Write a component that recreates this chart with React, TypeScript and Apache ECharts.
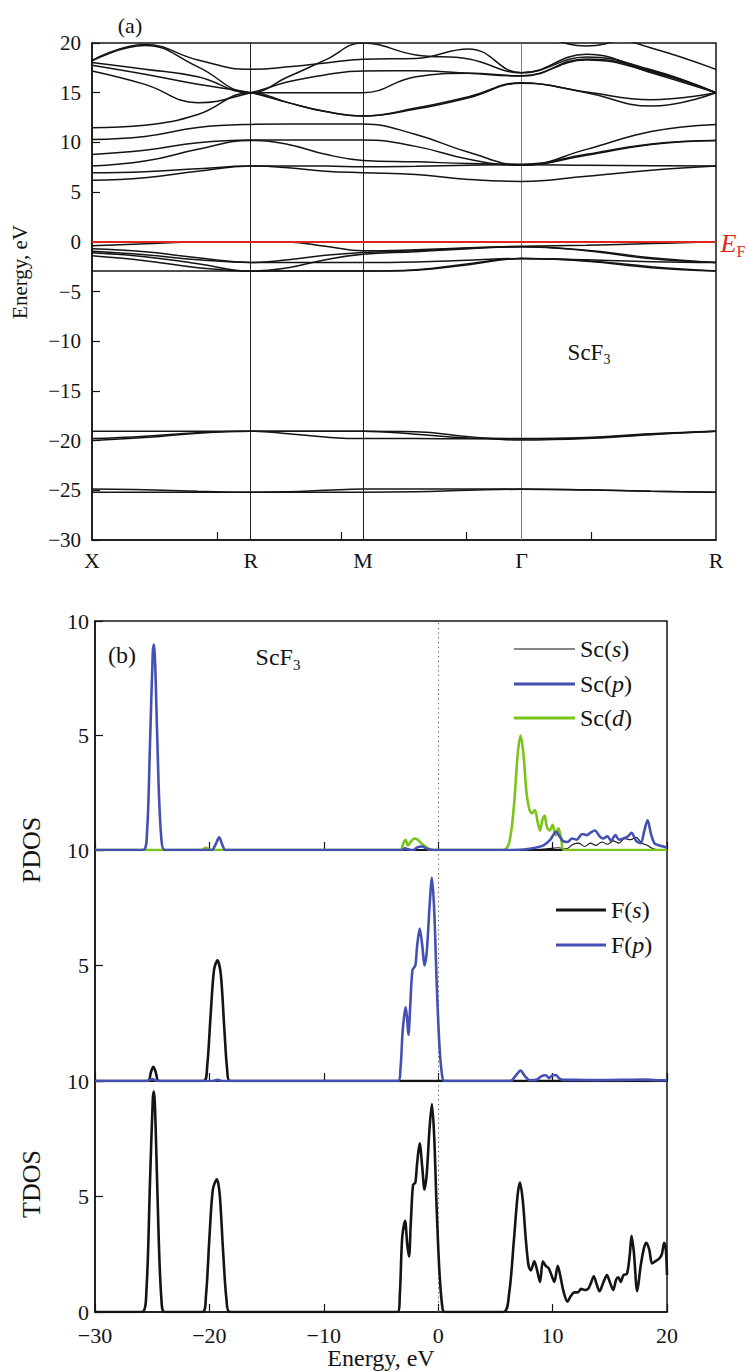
import { useEffect, useRef } from 'react';
import * as echarts from 'echarts';

const FONT = 'Liberation Serif, Times New Roman, serif';

// ---------- Panel (a): band structure ----------
const kPts = [0, 0.424, 0.848, 1.272, 1.572, 1.871, 2.171, 2.595, 3.019, 3.443, 3.962, 4.481, 5];
const kLabelPos = [0, 1.272, 2.171, 3.443, 5];
const kLabelNames = ['X', 'R', 'M', 'Γ', 'R'];
const kLinePos = [1.272, 2.171, 3.443];
const kTickPos = [1, 2, 3, 4];

const bandU1 = [18.26, 19.85, 18.3, 17.35, 17.6, 18.0, 18.36, 18.45, 19.4, 17.0, 18.87, 17.0, 15.0];
const bandU2 = [18.2, 19.75, 17.6, 15.0, 16.6, 18.3, 20.0, 18.8, 18.4, 17.0, 18.6, 17.3, 15.0];
const bandU3 = [18.03, 17.35, 16.6, 15.0, 15.0, 15.0, 15.0, 16.6, 16.95, 16.7, 18.4, 17.2, 15.0];
const bandU4 = [17.76, 16.85, 15.84, 15.0, 14.0, 13.1, 12.66, 13.45, 14.6, 16.0, 15.07, 14.3, 15.0];
const bandU5 = [17.19, 15.84, 14.0, 15.0, 16.1, 16.8, 17.19, 17.2, 16.95, 16.68, 18.3, 17.1, 15.0];
const bandU7 = [21, 21, 21, 21, 21, 21, 21, 21, 21, 21, 21, 19.5, 17.35];
const bandU8 = [21, 21, 21, 21, 21, 21, 21, 21, 21, 21, 19.7, 21, 21];
const bandC6 = [11.48, 11.73, 12.8, 15.0, 14.0, 13.1, 12.66, 13.35, 14.5, 15.95, 15.0, 13.65, 15.0];
const bandC5 = [10.3, 10.6, 11.5, 11.81, 11.85, 11.85, 11.85, 10.8, 9.0, 7.75, 8.7, 9.8, 10.2];
const bandC4 = [8.79, 9.2, 9.97, 10.25, 10.25, 10.24, 10.24, 9.6, 8.3, 7.7, 9.3, 11.1, 11.81];
const bandC3 = [7.62, 8.12, 9.3, 10.2, 9.8, 8.8, 8.19, 8.05, 7.87, 7.8, 8.8, 9.85, 10.2];
const bandC2 = [6.95, 7.05, 7.35, 7.62, 7.62, 7.62, 7.55, 7.6, 7.7, 7.75, 7.7, 7.65, 7.62];
const bandC1 = [6.18, 6.45, 7.1, 7.62, 7.45, 7.1, 6.95, 6.78, 6.27, 6.07, 6.6, 7.2, 7.62];
const bandV1 = [-0.4, -0.2, -0.03, 0, -0.03, -0.45, -0.91, -0.8, -0.6, -0.45, -0.34, -0.17, 0];
const bandV2 = [-0.7, -1.0, -1.6, -2.08, -1.8, -1.35, -1.07, -0.9, -0.65, -0.5, -0.9, -1.7, -2.08];
const bandV3 = [-0.95, -1.3, -1.8, -2.08, -2.08, -2.08, -2.08, -2.02, -1.85, -1.68, -1.8, -2.0, -2.08];
const bandV4 = [-1.1, -1.5, -2.2, -2.95, -2.6, -1.8, -1.25, -1.0, -0.7, -0.5, -0.85, -1.6, -2.08];
const bandV5 = [-1.41, -1.9, -2.6, -2.95, -2.95, -2.95, -2.95, -2.85, -2.3, -1.68, -1.95, -2.6, -2.95];
const bandV6 = [-2.95, -2.95, -2.95, -2.95, -2.95, -2.95, -2.95, -2.8, -2.2, -1.68, -1.9, -2.5, -2.93];
const bandE1 = [-19.05, -19.05, -19.05, -19.05, -19.05, -19.05, -19.05, -19.35, -19.75, -19.8, -19.7, -19.3, -19.05];
const bandE2 = [-19.8, -19.55, -19.2, -19.05, -19.3, -19.65, -19.8, -19.8, -19.82, -19.85, -19.75, -19.35, -19.05];
const bandE3 = [-20.0, -19.7, -19.25, -19.05, -19.05, -19.05, -19.05, -19.1, -19.6, -19.95, -19.8, -19.4, -19.05];
const bandD1 = [-24.87, -24.95, -25.1, -25.2, -25.15, -25.0, -24.87, -24.87, -24.87, -24.87, -24.95, -25.1, -25.2];
const bandD2 = [-25.2, -25.2, -25.2, -25.2, -25.2, -25.2, -25.2, -25.15, -25.0, -24.9, -24.97, -25.1, -25.2];

const bandList = [
  bandU1, bandU2, bandU3, bandU4, bandU5, bandU7, bandU8, bandC6, bandC5, bandC4, bandC3, bandC2, bandC1,
  bandV1, bandV2, bandV3, bandV4, bandV5, bandV6, bandE1, bandE2, bandE3, bandD1, bandD2,
];

// ---------- Panel (b): densities of states ----------
const dosScS = [
  [-30, 0], [-3.3, 0], [-2.9, 0.1], [-2.5, 0], [5.8, 0], [8.5, 0.02], [9.5, 0.05], [10.5, 0.1], [11.2, 0.05],
  [11.8, 0.25], [12.3, 0.3], [12.8, 0.15], [13.3, 0.3], [13.8, 0.2], [14.3, 0.35], [14.8, 0.25], [15.3, 0.4],
  [15.8, 0.3], [16.3, 0.5], [16.8, 0.45], [17.3, 0.55], [17.8, 0.3], [18.3, 0.2], [18.8, 0.05], [19.3, 0], [20, 0],
];
const dosScP = [
  [-30, 0], [-25.8, 0], [-25.45, 0.8], [-25.2, 4.5], [-24.95, 8.6], [-24.85, 8.97], [-24.7, 7.5], [-24.45, 3.0],
  [-24.2, 0.5], [-23.9, 0], [-19.8, 0], [-19.45, 0.25], [-19.15, 0.55], [-18.85, 0.2], [-18.6, 0],
  [-3.2, 0], [-2.9, 0.05], [-2.2, 0], [-1.8, 0.12], [-1.4, 0.15], [-1.0, 0.05], [-0.4, 0],
  [6.5, 0], [7.5, 0.02], [8.5, 0.1], [9.2, 0.2], [9.8, 0.45], [10.3, 0.8], [10.6, 0.6], [10.9, 0.4], [11.3, 0.35],
  [11.7, 0.5], [12.1, 0.45], [12.6, 0.7], [13.0, 0.65], [13.3, 0.75], [13.7, 0.85], [14.1, 0.6], [14.4, 0.5],
  [14.8, 0.6], [15.1, 0.4], [15.5, 0.65], [15.8, 0.45], [16.2, 0.5], [16.6, 0.6], [16.9, 0.75], [17.3, 0.4],
  [17.7, 0.3], [18.0, 0.8], [18.3, 1.3], [18.6, 0.7], [18.9, 0.3], [19.3, 0.2], [19.7, 0.15], [20, 0.1],
];
const dosScD = [
  [-30, 0], [-20.7, 0], [-20.3, 0.1], [-19.9, 0],
  [-3.3, 0], [-3.05, 0.3], [-2.85, 0.45], [-2.65, 0.2], [-2.4, 0.35], [-2.1, 0.5], [-1.8, 0.45], [-1.5, 0.3],
  [-1.1, 0.15], [-0.6, 0],
  [5.7, 0], [6.2, 0.3], [6.6, 1.8], [6.95, 4.2], [7.2, 5.0], [7.45, 4.2], [7.7, 2.6], [7.95, 1.8], [8.2, 1.6],
  [8.45, 1.75], [8.7, 1.2], [8.9, 0.85], [9.1, 1.3], [9.3, 1.5], [9.5, 1.0], [9.75, 0.85], [10.0, 1.1],
  [10.25, 0.65], [10.5, 0.95], [10.75, 0.5], [11.0, 0], [20, 0],
];
const dosFS = [
  [-30, 0], [-25.4, 0], [-25.1, 0.4], [-24.9, 0.62], [-24.7, 0.4], [-24.4, 0],
  [-20.5, 0], [-20.2, 0.6], [-19.9, 2.8], [-19.6, 4.8], [-19.3, 5.23], [-19.0, 4.6], [-18.7, 2.3], [-18.45, 0.5],
  [-18.2, 0], [20, 0],
];
const dosFP = [
  [-30, 0], [-25.5, 0], [-25.0, 0.08], [-24.5, 0], [-19.8, 0], [-19.3, 0.05], [-18.8, 0],
  [-3.5, 0], [-3.3, 0.5], [-3.1, 2.2], [-2.85, 3.2], [-2.7, 2.6], [-2.6, 2.0], [-2.45, 3.2], [-2.25, 4.8],
  [-2.0, 5.0], [-1.85, 5.8], [-1.62, 6.6], [-1.4, 5.9], [-1.2, 5.0], [-1.0, 5.6], [-0.75, 7.6], [-0.55, 8.8],
  [-0.35, 7.4], [-0.15, 4.5], [0.1, 1.6], [0.35, 0.2], [0.55, 0],
  [6.3, 0], [6.8, 0.25], [7.2, 0.45], [7.6, 0.2], [8.0, 0.03], [8.6, 0.05], [9.0, 0.2], [9.4, 0.25], [9.7, 0.12],
  [10.0, 0.25], [10.3, 0.25], [10.6, 0.1], [11.0, 0.05], [12, 0.05], [14, 0.04], [16, 0.05], [18, 0.06],
  [19, 0.04], [20, 0.03],
];
const dosTotal = [
  [-30, 0], [-25.9, 0], [-25.5, 1.0], [-25.2, 5.5], [-24.95, 9.2], [-24.85, 9.54], [-24.7, 8.0], [-24.45, 3.5],
  [-24.2, 0.6], [-23.9, 0],
  [-20.6, 0], [-20.3, 0.7], [-20.0, 3.2], [-19.7, 5.3], [-19.35, 5.75], [-19.1, 5.1], [-18.8, 2.6], [-18.5, 0.5],
  [-18.2, 0],
  [-3.55, 0], [-3.35, 0.8], [-3.15, 3.2], [-2.9, 3.95], [-2.7, 2.9], [-2.55, 2.4], [-2.4, 3.8], [-2.2, 5.5],
  [-2.0, 5.6], [-1.85, 6.4], [-1.62, 7.3], [-1.4, 6.3], [-1.2, 5.3], [-1.0, 6.0], [-0.75, 8.0], [-0.55, 9.0],
  [-0.35, 7.6], [-0.15, 4.7], [0.1, 1.8], [0.35, 0.25], [0.55, 0],
  [5.7, 0], [6.2, 0.8], [6.6, 3.0], [6.95, 5.1], [7.15, 5.6], [7.4, 4.8], [7.65, 3.2], [7.9, 2.0], [8.1, 1.8],
  [8.4, 2.2], [8.65, 1.8], [8.9, 1.3], [9.15, 2.2], [9.4, 2.0], [9.65, 1.9], [9.9, 1.6], [10.15, 1.3],
  [10.45, 2.0], [10.7, 1.5], [10.95, 0.9], [11.3, 0.45], [11.6, 0.7], [11.9, 0.85], [12.2, 0.85], [12.5, 1.0],
  [12.8, 0.95], [13.1, 1.0], [13.35, 1.25], [13.6, 1.55], [13.85, 1.2], [14.1, 0.9], [14.45, 1.3], [14.75, 1.6],
  [15.0, 1.3], [15.3, 0.95], [15.55, 1.4], [15.75, 1.5], [15.95, 1.3], [16.2, 1.6], [16.5, 1.65], [16.75, 2.5],
  [16.9, 3.3], [17.1, 2.6], [17.4, 0.9], [17.7, 2.0], [18.0, 2.8], [18.2, 3.0], [18.45, 2.7], [18.7, 2.1],
  [19.0, 2.2], [19.3, 2.3], [19.55, 2.5], [19.75, 3.0], [19.9, 2.7], [20, 1.6],
];

const BLUE = '#4550b3';
const GREEN = '#7cc41c';
const RED = '#e2261c';
const INK = '#141414';

const minusFmt = (v: number) => (v < 0 ? '\u2212' + Math.abs(v) : String(v));

function nearestName(v: number) {
  let best = 0;
  for (let i = 1; i < kLabelPos.length; i++) {
    if (Math.abs(kLabelPos[i] - v) < Math.abs(kLabelPos[best] - v)) best = i;
  }
  return kLabelNames[best];
}

function buildOption() {
  const dosGrids = [
    { left: 95, top: 621, width: 572, height: 229 },
    { left: 95, top: 850, width: 572, height: 231 },
    { left: 95, top: 1081, width: 572, height: 231 },
  ];
  const gridBase = { show: true, borderColor: INK, borderWidth: 1.5, containLabel: false };
  const grids = [
    { ...gridBase, left: 92, top: 43, width: 624, height: 497 },
    ...dosGrids.map((g) => ({ ...gridBase, ...g })),
  ];
  const axisLine = { onZero: false, lineStyle: { color: INK, width: 1.5 } };

  const xAxes: any[] = [
    {
      type: 'value', gridIndex: 0, min: 0, max: 5, interval: 1, position: 'bottom',
      axisLine,
      axisTick: { inside: true, length: 8, customValues: kTickPos, lineStyle: { color: INK, width: 1.2 } },
      axisLabel: {
        customValues: kLabelPos, formatter: (v: number) => nearestName(v),
        fontFamily: FONT, fontSize: 22, color: INK, margin: 9,
      },
      splitLine: { show: false },
    },
    ...[1, 2, 3].map((gi) => ({
      type: 'value', gridIndex: gi, min: -30, max: 20, interval: 10, position: 'bottom',
      axisLine,
      axisTick: { inside: true, length: 8, lineStyle: { color: INK, width: 1.2 } },
      axisLabel: {
        show: gi === 3, formatter: minusFmt, fontFamily: FONT, fontSize: 22, color: INK, margin: 12,
      },
      splitLine: { show: false },
    })),
  ];

  const yAxes: any[] = [
    {
      type: 'value', gridIndex: 0, min: -30, max: 20, interval: 5, position: 'left',
      axisLine,
      axisTick: { inside: true, length: 8, lineStyle: { color: INK, width: 1.2 } },
      axisLabel: { formatter: minusFmt, fontFamily: FONT, fontSize: 21, color: INK, margin: 11 },
      splitLine: { show: false },
    },
    ...[1, 2, 3].map((gi) => ({
      type: 'value', gridIndex: gi, min: 0, max: 10, interval: 5, position: 'left',
      axisLine,
      axisTick: { inside: true, length: 8, lineStyle: { color: INK, width: 1.2 } },
      axisLabel: {
        formatter: (v: number) => (gi < 3 && v === 0 ? '' : String(v)),
        fontFamily: FONT, fontSize: 22, color: INK, margin: 6,
      },
      splitLine: { show: false },
    })),
  ];

  const series: any[] = bandList.map((b, idx) => ({
    type: 'line', xAxisIndex: 0, yAxisIndex: 0,
    data: kPts.map((k, i) => [k, b[i]]),
    smooth: 0.45, showSymbol: false, symbol: 'none', silent: true,
    lineStyle: { color: INK, width: 1.5 }, z: 3,
    ...(idx === 0
      ? {
          markLine: {
            silent: true, symbol: ['none', 'none'], label: { show: false }, z: 1,
            data: kLinePos.map((k, i) => ({
              xAxis: k, lineStyle: { color: i === 2 ? '#7a7a7a' : '#222', width: 1, type: 'solid' },
            })),
          },
        }
      : {}),
  }));
  series.push({
    type: 'line', xAxisIndex: 0, yAxisIndex: 0, data: [[0, 0]], showSymbol: false, symbol: 'none',
    lineStyle: { opacity: 0 }, silent: true, z: 6,
    markLine: {
      silent: true, symbol: ['none', 'none'], label: { show: false },
      data: [{ yAxis: 0, lineStyle: { color: RED, width: 2, type: 'solid' } }],
    },
  });

  const dosLine = (data: number[][], gi: number, color: string, width: number, withZero = false) => ({
    type: 'line', xAxisIndex: gi, yAxisIndex: gi, data, smooth: 0.3, showSymbol: false, symbol: 'none',
    silent: true, lineStyle: { color, width }, z: 3,
    ...(withZero
      ? {
          markLine: {
            silent: true, symbol: ['none', 'none'], label: { show: false }, z: 1,
            lineStyle: { color: '#555', width: 1, type: [1.2, 3.5] },
            data: [{ xAxis: 0 }],
          },
        }
      : {}),
  });
  series.push(dosLine(dosScS, 1, INK, 1.1, true));
  series.push(dosLine(dosScD, 1, GREEN, 2.6));
  series.push(dosLine(dosScP, 1, BLUE, 2.6));
  series.push(dosLine(dosFS, 2, INK, 2.6, true));
  series.push(dosLine(dosFP, 2, BLUE, 2.6));
  series.push(dosLine(dosTotal, 3, INK, 2.6, true));

  const txt = (text: string, x: number, y: number, size: number, extra: any = {}) => ({
    type: 'text', x, y, silent: true,
    style: {
      text, fontFamily: FONT, fontSize: size, fill: INK,
      align: 'center', verticalAlign: 'middle', textAlign: 'center', textVerticalAlign: 'middle', ...extra,
    },
  });
  const sub = (main: string, s: string, x: number, y: number, size: number, color = INK, italicMain = false) => ({
    type: 'text', x, y, silent: true,
    style: {
      text: `{m|${main}}{s|${s}}`, fill: color,
      align: 'center', verticalAlign: 'middle', textAlign: 'center', textVerticalAlign: 'middle',
      rich: {
        m: {
          fontFamily: FONT, fontSize: size, fontStyle: italicMain ? 'italic' : 'normal', fill: color,
          lineHeight: size + 6, verticalAlign: 'middle',
        },
        s: { fontFamily: FONT, fontSize: Math.round(size * 0.62), fill: color, lineHeight: 13, verticalAlign: 'bottom' },
      },
    },
  });
  const legendItem = (pre: string, it: string, x1: number, x2: number, y: number, color: string, w: number) => [
    { type: 'line', silent: true, shape: { x1, y1: y, x2, y2: y }, style: { stroke: color, lineWidth: w } },
    {
      type: 'text', x: x2 + 5, y, silent: true,
      style: {
        text: `{n|${pre}(}{i|${it}}{n|)}`, align: 'left', verticalAlign: 'middle',
        textAlign: 'left', textVerticalAlign: 'middle', fill: INK,
        rich: {
          n: { fontFamily: FONT, fontSize: 24, fill: INK },
          i: { fontFamily: FONT, fontSize: 24, fontStyle: 'italic', fill: INK },
        },
      },
    },
  ];

  const graphic: any[] = [
    txt('(a)', 130, 25, 22),
    { ...txt('Energy, eV', 20, 272, 21), rotation: Math.PI / 2 },
    sub('ScF', '3', 589, 352, 23),
    sub('E', 'F', 733, 243, 26, RED, true),
    txt('(b)', 122, 655, 24),
    sub('ScF', '3', 278, 657, 24),
    ...legendItem('Sc', 's', 514, 575, 649, INK, 1.2),
    ...legendItem('Sc', 'p', 514, 575, 684, BLUE, 3),
    ...legendItem('Sc', 'd', 514, 575, 718, GREEN, 3),
    ...legendItem('F', 's', 556, 606, 910, INK, 3),
    ...legendItem('F', 'p', 556, 606, 945, BLUE, 3),
    { ...txt('PDOS', 31, 850, 26), rotation: Math.PI / 2 },
    { ...txt('TDOS', 31, 1184, 26), rotation: Math.PI / 2 },
    txt('Energy, eV', 381, 1358, 24),
  ];

  return {
    animation: false,
    backgroundColor: '#ffffff',
    grid: grids,
    xAxis: xAxes,
    yAxis: yAxes,
    series,
    graphic,
  };
}

export default function App() {
  const ref = useRef<HTMLDivElement>(null);
  useEffect(() => {
    if (!ref.current) return;
    const chart = echarts.init(ref.current, undefined, { renderer: 'svg' });
    chart.setOption(buildOption() as any);
    return () => chart.dispose();
  }, []);
  return (
    <div
      ref={ref}
      style={{ position: 'absolute', left: 0, top: 0, width: 749, height: 1372, background: '#fff' }}
    />
  );
}
